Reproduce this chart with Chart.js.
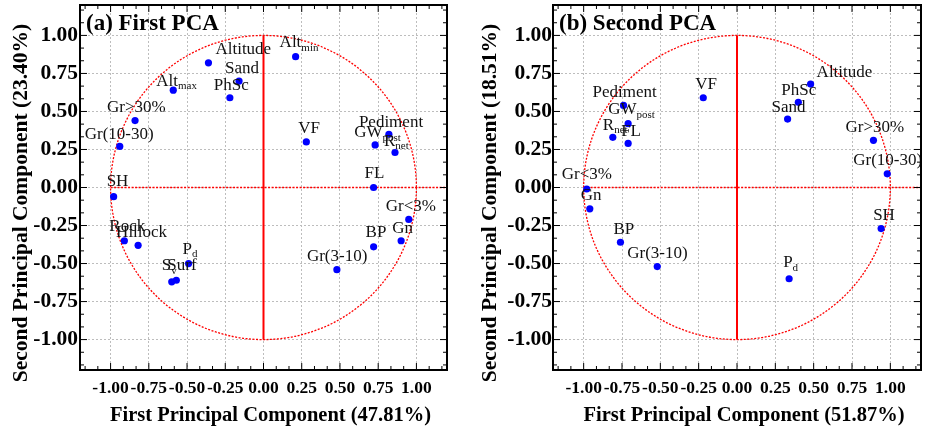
<!DOCTYPE html>
<html lang="en">
<head>
  <meta charset="UTF-8" />
  <title>PCA loadings</title>
  <script src="https://cdn.jsdelivr.net/npm/chart.js"></script>
  <style>
    body { margin: 0; background: #fff; }
    .wrap { position: relative; width: 929px; height: 431px; }
    #pcaA { position: absolute; left: 0; top: 0; }
    #pcaB { position: absolute; left: 465px; top: 0; }
  </style>
</head>
<body>
  <div class="wrap">
    <canvas id="pcaA" width="465" height="431"></canvas>
    <canvas id="pcaB" width="464" height="431"></canvas>
  </div>

  <script>
    // (a) first PCA — variable loadings
    const namesA = ['Altitude', 'Alt_min', 'Alt_max', 'Sand', 'PhSc', 'Gr>30%', 'Gr(10-30)', 'SH', 'VF',
      'Pediment', 'GW_post', 'R_net', 'FL', 'Gr<3%', 'Gn', 'BP', 'Gr(3-10)', 'Rock', 'Hillock', 'P_d', 'Surf', 'S_v'];
    const pc1A = [-0.36, 0.21, -0.59, -0.16, -0.22, -0.84, -0.94, -0.98, 0.28,
      0.82, 0.73, 0.86, 0.72, 0.95, 0.90, 0.72, 0.48, -0.91, -0.82, -0.49, -0.57, -0.60];
    const pc2A = [0.82, 0.86, 0.64, 0.70, 0.59, 0.44, 0.27, -0.06, 0.30,
      0.35, 0.28, 0.23, 0.00, -0.21, -0.35, -0.39, -0.54, -0.35, -0.38, -0.50, -0.61, -0.62];

    // (b) second PCA
    const namesB = ['Altitude', 'PhSc', 'Sand', 'Gr>30%', 'Gr(10-30)', 'VF', 'Pediment', 'GW_post',
      'R_net', 'FL', 'Gr<3%', 'Gn', 'SH', 'BP', 'Gr(3-10)', 'P_d'];
    const pc1B = [0.48, 0.40, 0.33, 0.89, 0.98, -0.22, -0.74, -0.71, -0.81, -0.71, -0.98, -0.96, 0.94, -0.76, -0.52, 0.34];
    const pc2B = [0.68, 0.56, 0.45, 0.31, 0.09, 0.59, 0.54, 0.42, 0.33, 0.29, -0.01, -0.14, -0.27, -0.36, -0.52, -0.60];

    const tickVals = [-1, -0.75, -0.5, -0.25, 0, 0.25, 0.5, 0.75, 1];

    // label placement (px from the point: left edge, vertical middle)
    const nudgeA = [[7, -13], [-16, -14], [-17, -9], [-14, -13], [-16, -12], [-28, -13], [-35, -12], [-7, -15], [-8, -13],
      [-30, -12], [-21, -12], [-11, -11], [-9, -14], [-23, -13], [-9, -12], [-8, -14], [-30, -13], [-15, -14], [-22, -13],
      [-6, -14], [-9, -15], [-10, -16]];
    const nudgeB = [[6, -12], [-17, -12], [-16, -12], [-28, -13], [-34, -13], [-8, -13], [-31, -13], [-20, -14],
      [-10, -12], [-7, -12], [-25, -14], [-9, -13], [-8, -13], [-7, -13], [-30, -13], [-6, -16]];

    const serif = '"Liberation Serif", "Times New Roman", serif';

    const pcaDecor = {
      id: 'pcaDecor',
      beforeDatasetsDraw(chart) {
        const { ctx, chartArea: a, scales: { x, y } } = chart;
        const x0 = x.getPixelForValue(0), y0 = y.getPixelForValue(0);
        const rx = x.getPixelForValue(1) - x0, ry = y0 - y.getPixelForValue(1);
        ctx.save();
        ctx.strokeStyle = '#ff0000';
        ctx.lineWidth = 1.3;
        ctx.setLineDash([2, 1.5]);
        ctx.beginPath();
        ctx.ellipse(x0, y0, rx, ry, 0, 0, Math.PI * 2);
        ctx.stroke();
        ctx.beginPath();
        ctx.moveTo(x.getPixelForValue(-1), y0);
        ctx.lineTo(a.right, y0);
        ctx.stroke();
        ctx.setLineDash([]);
        ctx.lineWidth = 2;
        ctx.beginPath();
        ctx.moveTo(x0, y.getPixelForValue(1));
        ctx.lineTo(x0, y.getPixelForValue(-1));
        ctx.stroke();
        ctx.restore();
      },
      afterDatasetsDraw(chart, args, opts) {
        const { ctx } = chart;
        const pts = chart.getDatasetMeta(0).data;
        ctx.save();
        ctx.fillStyle = '#111';
        ctx.textBaseline = 'middle';
        pts.forEach((pt, i) => {
          const [main, sub] = opts.names[i].split('_');
          const lx = pt.x + opts.nudge[i][0], ly = pt.y + opts.nudge[i][1];
          ctx.font = '17px ' + serif;
          ctx.fillText(main, lx, ly);
          if (sub) {
            const w = ctx.measureText(main).width;
            ctx.font = '11px ' + serif;
            ctx.fillText(sub, lx + w, ly + 5);
          }
        });
        ctx.restore();
      },
      afterDraw(chart, args, opts) {
        const { ctx, chartArea: a, scales: { x, y } } = chart;
        ctx.save();
        // inward tick marks on all four sides
        ctx.strokeStyle = '#000';
        ctx.lineWidth = 1;
        for (let k = -14; k <= 14; k++) {
          const len = k % 3 === 0 ? 7 : 4;
          const px = x.getPixelForValue(k / 12), py = y.getPixelForValue(k / 12);
          ctx.beginPath();
          ctx.moveTo(px, a.bottom); ctx.lineTo(px, a.bottom - len);
          ctx.moveTo(px, a.top); ctx.lineTo(px, a.top + len);
          ctx.moveTo(a.left, py); ctx.lineTo(a.left + len, py);
          ctx.moveTo(a.right, py); ctx.lineTo(a.right - len, py);
          ctx.stroke();
        }
        ctx.lineWidth = 2;
        ctx.strokeRect(a.left, a.top, a.right - a.left, a.bottom - a.top);

        ctx.fillStyle = '#000';
        ctx.font = 'bold 23px ' + serif;
        ctx.textBaseline = 'alphabetic';
        ctx.fillText(opts.title, a.left + 6, 30);

        ctx.textAlign = 'center';
        ctx.textBaseline = 'middle';
        ctx.font = 'bold 20.5px ' + serif;
        ctx.fillText(opts.xTitle, (a.left + a.right) / 2 + 7, 416);

        ctx.translate(opts.yTitleX, 203);
        ctx.rotate(-Math.PI / 2);
        ctx.font = 'bold 21.5px ' + serif;
        ctx.fillText(opts.yTitle, 0, 0);
        ctx.restore();
      }
    };

    function noEdgePad(s) {
      s.paddingTop = 0;
      s.paddingBottom = 0;
      s.paddingLeft = 0;
      s.paddingRight = 0;
    }

    function makePca(canvasId, names, pc1, pc2, nudge, cfg) {
      const ctx = document.getElementById(canvasId).getContext('2d');
      return new Chart(ctx, {
        type: 'scatter',
        data: {
          datasets: [{
            data: pc1.map((v, i) => ({ x: v, y: pc2[i] })),
            backgroundColor: '#0000ff',
            borderWidth: 0,
            pointRadius: 3.6
          }]
        },
        options: {
          responsive: false,
          animation: false,
          layout: { padding: { top: 5, right: cfg.padRight, left: 0, bottom: 0 } },
          plugins: {
            legend: { display: false },
            tooltip: { enabled: false },
            pcaDecor: { names, nudge, title: cfg.title, xTitle: cfg.xTitle, yTitle: cfg.yTitle, yTitleX: cfg.yTitleX }
          },
          scales: {
            x: {
              type: 'linear',
              min: -1.2,
              max: 1.2,
              afterBuildTicks: s => { s.ticks = tickVals.map(v => ({ value: v })); },
              afterFit: s => { s.height = 61; noEdgePad(s); },
              grid: { color: '#bdbdbd', lineWidth: 1, drawTicks: false },
              border: { display: false, dash: [2, 2] },
              ticks: {
                autoSkip: false, maxRotation: 0, minRotation: 0, padding: 8, color: '#000',
                font: { family: serif, size: 17.5, weight: 'bold' },
                callback: v => v.toFixed(2)
              }
            },
            y: {
              type: 'linear',
              min: -1.2,
              max: 1.2,
              afterBuildTicks: s => { s.ticks = tickVals.map(v => ({ value: v })); },
              afterFit: s => { s.width = cfg.yWidth; noEdgePad(s); },
              grid: { color: '#bdbdbd', lineWidth: 1, drawTicks: false },
              border: { display: false, dash: [2, 2] },
              ticks: {
                autoSkip: false, padding: cfg.yPad, color: '#000',
                font: { family: serif, size: 21.5, weight: 'bold' },
                callback: v => v.toFixed(2)
              }
            }
          }
        },
        plugins: [pcaDecor]
      });
    }

    makePca('pcaA', namesA, pc1A, pc2A, nudgeA, {
      title: '(a) First PCA',
      xTitle: 'First Principal Component (47.81%)',
      yTitle: 'Second Principal Component (23.40%)',
      yTitleX: 21, yWidth: 80, yPad: 2, padRight: 18
    });

    makePca('pcaB', namesB, pc1B, pc2B, nudgeB, {
      title: '(b) Second PCA',
      xTitle: 'First Principal Component (51.87%)',
      yTitle: 'Second Principal Component (18.51%)',
      yTitleX: 25, yWidth: 88, yPad: 1, padRight: 8
    });
  </script>
</body>
</html>
